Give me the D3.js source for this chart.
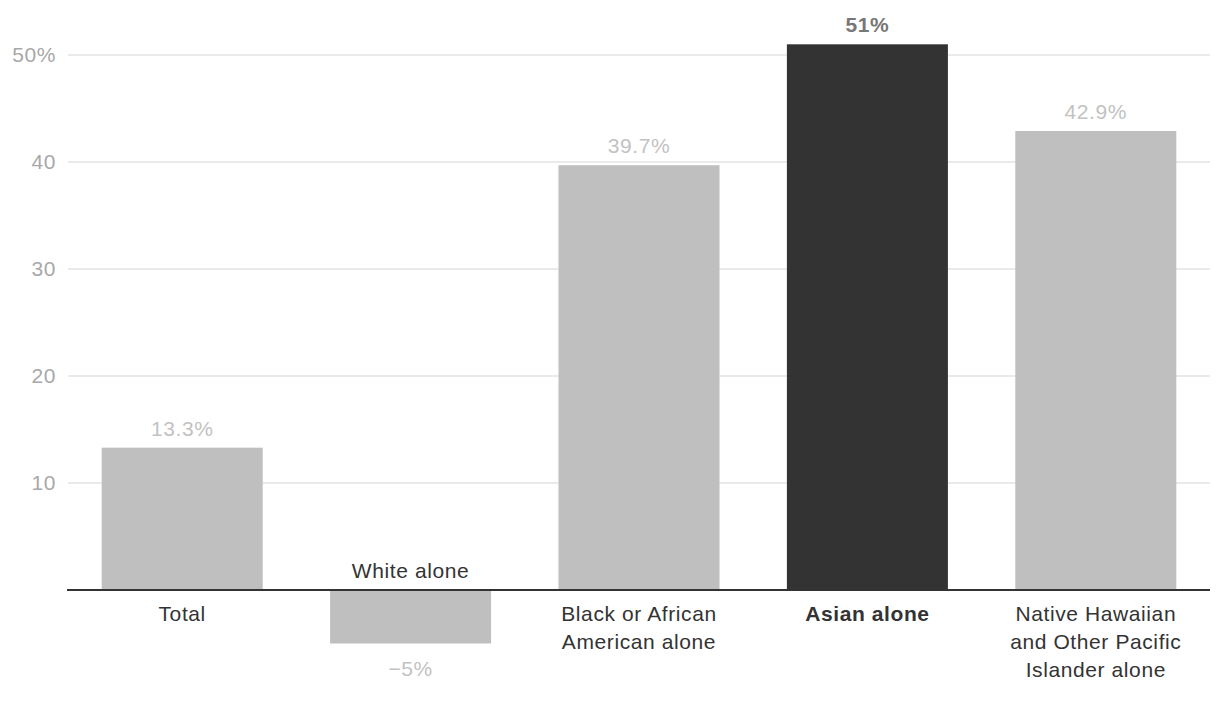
<!DOCTYPE html>
<html>
<head>
<meta charset="utf-8">
<script src="https://cdn.jsdelivr.net/npm/d3@7"></script>
<style>
  html, body { margin: 0; padding: 0; background: #fff; }
  svg text { font-family: "Liberation Sans", Arial, sans-serif; letter-spacing: 0.6px; }
</style>
</head>
<body>
<svg id="chart" width="1220" height="704"></svg>
<script>
const categories = ["Total", "White alone", "Black or African American alone", "Asian alone", "Native Hawaiian and Other Pacific Islander alone"];
const categoryLines = [["Total"], ["White alone"], ["Black or African", "American alone"], ["Asian alone"], ["Native Hawaiian", "and Other Pacific", "Islander alone"]];
const values = [13.3, -5, 39.7, 51, 42.9];
const valueLabels = ["13.3%", "\u22125%", "39.7%", "51%", "42.9%"];
const highlight = [false, false, false, true, false];
const yTicks = [10, 20, 30, 40, 50];
const yTickLabels = ["10", "20", "30", "40", "50%"];

const svg = d3.select("#chart");
const x = d3.scaleBand().domain(categories).range([68, 1210]).paddingInner(0.295).paddingOuter(0.1475);
const y = d3.scaleLinear().domain([0, 50]).range([590, 55]);
const FS = 21;

// gridlines
svg.append("g").selectAll("line").data(yTicks).join("line")
  .attr("x1", 68).attr("x2", 1210)
  .attr("y1", d => y(d)).attr("y2", d => y(d))
  .attr("stroke", "#e3e3e3").attr("stroke-width", 1.5);

// y tick labels
svg.append("g").selectAll("text").data(yTicks).join("text")
  .attr("x", 56).attr("y", d => y(d))
  .attr("dy", "0.35em").attr("text-anchor", "end")
  .attr("font-size", FS).attr("fill", "#a8a8a8")
  .text((d, i) => yTickLabels[i]);

// bars
svg.append("g").selectAll("rect").data(categories).join("rect")
  .attr("x", d => x(d))
  .attr("width", x.bandwidth())
  .attr("y", (d, i) => Math.min(y(values[i]), y(0)))
  .attr("height", (d, i) => Math.abs(y(values[i]) - y(0)))
  .attr("fill", (d, i) => highlight[i] ? "#333333" : "#bfbfbf");

// baseline
svg.append("line").attr("x1", 67).attr("x2", 1210).attr("y1", y(0)).attr("y2", y(0))
  .attr("stroke", "#333").attr("stroke-width", 2);

// value labels
svg.append("g").selectAll("text").data(categories).join("text")
  .attr("x", d => x(d) + x.bandwidth() / 2)
  .attr("y", (d, i) => values[i] >= 0 ? y(values[i]) - 12 : y(values[i]) + 32)
  .attr("text-anchor", "middle")
  .attr("font-size", FS)
  .attr("font-weight", (d, i) => highlight[i] ? "bold" : "normal")
  .attr("fill", (d, i) => highlight[i] ? "#777" : "#c2c2c2")
  .text((d, i) => valueLabels[i]);

// category labels
const cat = svg.append("g").selectAll("text").data(categories).join("text")
  .attr("text-anchor", "middle")
  .attr("font-size", FS)
  .attr("font-weight", (d, i) => highlight[i] ? "bold" : "normal")
  .attr("fill", "#333")
  .attr("x", d => x(d) + x.bandwidth() / 2)
  .attr("y", (d, i) => values[i] >= 0 ? y(0) + 31 : y(0) - 12);
cat.each(function(d, i) {
  d3.select(this).selectAll("tspan").data(categoryLines[i]).join("tspan")
    .attr("x", x(d) + x.bandwidth() / 2)
    .attr("dy", (t, j) => j === 0 ? 0 : 28)
    .text(t => t);
});
</script>
</body>
</html>
